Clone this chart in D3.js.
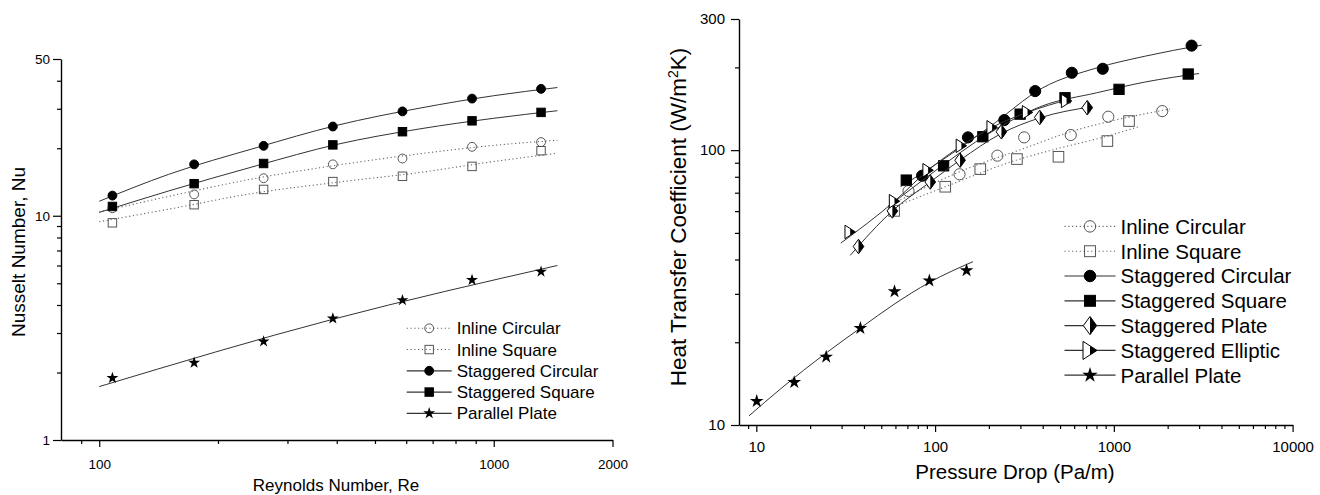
<!DOCTYPE html>
<html>
<head>
<meta charset="utf-8">
<script src="https://cdn.jsdelivr.net/npm/d3@7"></script>
<style>
body { margin: 0; background: #fff; }
svg { display: block; font-family: Arial, "Liberation Sans", sans-serif; }
</style>
</head>
<body>
<svg id="chart" width="1320" height="495"></svg>
<script>
// ---- left panel data: Nusselt number vs Reynolds number ----
const reLeft = [108, 174, 261, 391, 587, 881, 1318];
const nuInlineCircular = [10.8, 12.45, 14.7, 16.95, 18.0, 20.3, 21.3];
const nuInlineSquare = [9.3, 11.2, 13.1, 14.2, 15.0, 16.6, 19.5];
const nuStagCircular = [12.3, 16.95, 20.5, 25.0, 29.2, 33.3, 36.8];
const nuStagSquare = [11.0, 13.9, 17.1, 20.7, 23.7, 26.5, 28.9];
const nuParallel = [1.89, 2.21, 2.75, 3.48, 4.2, 5.17, 5.63];

// fitted curves
const fitReLeft = [100, 150, 250, 400, 650, 1000, 1450];
const fitNuInlineCircular = [10.4, 12.2, 14.7, 16.8, 18.9, 20.6, 21.7];
const fitNuInlineSquare = [9.4, 10.7, 12.65, 14.1, 15.6, 17.45, 19.0];
const fitNuStagCircular = [11.6, 15.3, 20.1, 25.3, 30.2, 34.3, 37.3];
const fitNuStagSquare = [10.35, 12.9, 16.7, 20.8, 24.4, 27.2, 29.4];
const fitReParallel = [100, 390, 1450];
const fitNuParallel = [1.73, 3.45, 6.0];

const leftXTicks = [100, 1000, 2000];
const leftXMinor = [90, 200, 300, 400, 500, 600, 700, 800, 900];
const leftYTicks = [1, 10, 50];
const leftYMinor = [2, 3, 4, 5, 6, 7, 8, 9, 20, 30, 40];

// ---- right panel data: heat transfer coefficient vs pressure drop ----
const dpInlineCircular = [71, 137, 223, 315, 574, 931, 1866];
const hInlineCircular = [71.0, 81.7, 95.5, 111.3, 113.5, 132.3, 138.7];
const dpInlineSquare = [59, 114, 179, 287, 490, 920, 1216];
const hInlineSquare = [60.1, 73.6, 85.3, 92.8, 94.6, 107.9, 127.6];
const dpStagCircular = [84.6, 152.7, 244, 363, 582, 867, 2723];
const hStagCircular = [80.7, 111.3, 128.7, 164, 191.2, 197.7, 240];
const dpStagSquare = [69, 111.6, 185, 299, 533, 1069, 2606];
const hStagSquare = [77.8, 87.7, 111.9, 135.2, 155.1, 166.4, 189.2];
const dpStagPlate = [37.3, 57.7, 94, 138, 235, 385, 710];
const hStagPlate = [44.6, 60.1, 76.6, 91.9, 116.6, 131.5, 142.7];
const dpStagElliptic = [33.5, 59.3, 91.4, 140.3, 208.5, 329, 544];
const hStagElliptic = [50.4, 65.2, 84.5, 103.7, 121.1, 137.3, 151];
const dpParallel = [10.05, 16.3, 24.6, 38.2, 59.3, 92.9, 150];
const hParallel = [12.2, 14.3, 17.7, 22.5, 30.6, 33.5, 36.5];

// fitted curves
const fitDpInlineCircular = [61.2, 137, 315, 574, 931, 2061];
const fitHInlineCircular = [64.9, 83.4, 101.5, 116.7, 126.9, 141.1];
const fitDpInlineSquare = [62.5, 114, 287, 490, 920, 1371];
const fitHInlineSquare = [63.1, 73.6, 92.1, 101.5, 112.5, 121.6];
const fitDpStagCircular = [64, 100, 200, 400, 800, 1500, 3100];
const fitHStagCircular = [73.6, 88.4, 121, 168.5, 199, 219.8, 241];
const fitDpStagSquare = [55, 100, 200, 400, 800, 1500, 3000];
const fitHStagSquare = [62.5, 84, 115, 145, 161.6, 177, 190];
const fitDpStagPlate = [33.5, 57.7, 94, 138, 235, 385, 757];
const fitHStagPlate = [41.4, 60.1, 76.6, 92, 115, 131, 144];
const fitDpStagElliptic = [29.7, 59.3, 91.4, 140.3, 208.5, 329, 560];
const fitHStagElliptic = [45.9, 65.2, 84.5, 103.7, 121.1, 137.3, 153];
const fitDpParallel = [9.1, 13.6, 24.9, 38.5, 59, 92.8, 163];
const fitHParallel = [10.8, 13.5, 18.4, 22.6, 27.5, 33.0, 39.3];

const rightXTicks = [10, 100, 1000, 10000];
const rightXMinor = [9, 20, 30, 40, 50, 60, 70, 80, 90, 200, 300, 400, 500, 600, 700, 800, 900,
                     2000, 3000, 4000, 5000, 6000, 7000, 8000, 9000];
const rightYTicks = [10, 100, 300];
const rightYMinor = [20, 30, 40, 50, 60, 70, 80, 90, 200];

const svg = d3.select("#chart");
const zip = (xs, ys) => xs.map((x, i) => [x, ys[i]]);

// ---- scales ----
const X_LEFT = d3.scaleLog().domain([80, 2000]).range([61, 612.5]);
const Y_LEFT = d3.scaleLog().domain([1, 50]).range([440, 59]);
const X_RIGHT = d3.scaleLog().domain([8, 10000]).range([739, 1292.6]);
const Y_RIGHT = d3.scaleLog().domain([10, 300]).range([425, 19]);

// draw one marker of a given kind centred at 0,0 inside g
function marker(g, kind, s) {
  if (kind === "openCircle" || kind === "circle") {
    g.append("circle").attr("r", s * 0.82)
      .attr("fill", kind === "circle" ? "#000" : "none")
      .attr("stroke", kind === "circle" ? "#000" : "#555").attr("stroke-width", 1);
  } else if (kind === "openSquare" || kind === "square") {
    const h = s * 0.78;
    g.append("rect").attr("x", -h).attr("y", -h).attr("width", 2 * h).attr("height", 2 * h)
      .attr("fill", kind === "square" ? "#000" : "none")
      .attr("stroke", kind === "square" ? "#000" : "#555").attr("stroke-width", 1);
  } else if (kind === "star") {
    g.append("path").attr("d", d3.symbol(d3.symbolStar, s * s * 1.5)())
      .attr("fill", "#000");
  } else if (kind === "halfDiamond") {
    const w = s * 0.95, h = s * 1.3;
    g.append("path").attr("d", `M0,${-h}L${w},0L0,${h}L${-w},0Z`)
      .attr("fill", "#fff").attr("stroke", "#000").attr("stroke-width", 1);
    g.append("path").attr("d", `M0,${-h}L${w},0L0,${h}Z`).attr("fill", "#000");
  } else if (kind === "halfTriangle") {
    const w = s * 1.0, h = s * 1.3;
    g.append("path").attr("d", `M${-w},${-h}L${w},0L${-w},${h}Z`)
      .attr("fill", "#fff").attr("stroke", "#000").attr("stroke-width", 1);
    g.append("path").attr("d", `M0,${-h / 2}L${w},0L0,${h / 2}Z`).attr("fill", "#000");
  }
}

function drawAxes(xs, ys, xTicks, xMinor, yTicks, yMinor, fontSize, xPad, yPad) {
  const bottom = ys.range()[0], left = xs.range()[0];
  const xa = svg.append("g").attr("transform", `translate(0,${bottom})`)
    .call(d3.axisBottom(xs).tickValues(xTicks).tickFormat(d3.format("d"))
      .tickSize(7).tickSizeOuter(0).tickPadding(xPad));
  svg.append("g").attr("transform", `translate(0,${bottom})`)
    .call(d3.axisBottom(xs).tickValues(xMinor).tickFormat("").tickSize(4).tickSizeOuter(0))
    .call(g => g.select(".domain").remove());
  const ya = svg.append("g").attr("transform", `translate(${left},0)`)
    .call(d3.axisLeft(ys).tickValues(yTicks).tickFormat(d3.format("d"))
      .tickSize(8).tickSizeOuter(0).tickPadding(yPad));
  svg.append("g").attr("transform", `translate(${left},0)`)
    .call(d3.axisLeft(ys).tickValues(yMinor).tickFormat("").tickSize(4).tickSizeOuter(0))
    .call(g => g.select(".domain").remove());
  [xa, ya].forEach(a => {
    a.attr("font-family", null).attr("font-size", fontSize);
    a.select(".domain").attr("stroke-width", 1.4);
  });
  svg.selectAll(".tick line").attr("stroke-width", 1.2);
}

function drawSeries(xs, ys, fx, fy, px, py, kind, dotted, s) {
  const line = d3.line().x(d => xs(d[0])).y(d => ys(d[1])).curve(d3.curveMonotoneX);
  svg.append("path").datum(zip(fx, fy)).attr("d", line)
    .attr("fill", "none")
    .attr("stroke", dotted ? "#666" : "#333")
    .attr("stroke-width", dotted ? 1.1 : 1)
    .attr("stroke-dasharray", dotted ? "1.2,2.6" : null);
  zip(px, py).forEach(d => {
    marker(svg.append("g").attr("transform", `translate(${xs(d[0])},${ys(d[1])})`), kind, s);
  });
}

function drawLegend(items, x0, y0, dy, lineLen, fontSize, s) {
  items.forEach((it, i) => {
    const y = y0 + i * dy;
    svg.append("line").attr("x1", x0).attr("x2", x0 + lineLen).attr("y1", y).attr("y2", y)
      .attr("stroke", it.dotted ? "#666" : "#333").attr("stroke-width", it.dotted ? 1.1 : 1.2)
      .attr("stroke-dasharray", it.dotted ? "1.2,2.6" : null);
    marker(svg.append("g").attr("transform", `translate(${x0 + lineLen / 2},${y})`), it.kind, s);
    svg.append("text").attr("x", x0 + lineLen + 5).attr("y", y).attr("dy", "0.36em")
      .attr("font-size", fontSize).attr("fill", "#000").text(it.name);
  });
}

// ---- left panel ----
drawAxes(X_LEFT, Y_LEFT, leftXTicks, leftXMinor, leftYTicks, leftYMinor, 13.5, 12, 3);
drawSeries(X_LEFT, Y_LEFT, fitReLeft, fitNuInlineCircular, reLeft, nuInlineCircular, "openCircle", true, 5.4);
drawSeries(X_LEFT, Y_LEFT, fitReLeft, fitNuInlineSquare, reLeft, nuInlineSquare, "openSquare", true, 5.4);
drawSeries(X_LEFT, Y_LEFT, fitReLeft, fitNuStagCircular, reLeft, nuStagCircular, "circle", false, 5.4);
drawSeries(X_LEFT, Y_LEFT, fitReLeft, fitNuStagSquare, reLeft, nuStagSquare, "square", false, 5.4);
drawSeries(X_LEFT, Y_LEFT, fitReParallel, fitNuParallel, reLeft, nuParallel, "star", false, 5.4);

drawLegend([
  {name: "Inline Circular", kind: "openCircle", dotted: true},
  {name: "Inline Square", kind: "openSquare", dotted: true},
  {name: "Staggered Circular", kind: "circle"},
  {name: "Staggered Square", kind: "square"},
  {name: "Parallel Plate", kind: "star"}
], 406.7, 328.3, 21.25, 45, 17, 5.4);

svg.append("text").attr("x", 336).attr("y", 491).attr("text-anchor", "middle")
  .attr("font-size", 17).text("Reynolds Number, Re");
svg.append("text").attr("transform", "translate(25,252) rotate(-90)").attr("text-anchor", "middle")
  .attr("font-size", 19).text("Nusselt Number, Nu");

// ---- right panel ----
drawAxes(X_RIGHT, Y_RIGHT, rightXTicks, rightXMinor, rightYTicks, rightYMinor, 15, 9, 6);
drawSeries(X_RIGHT, Y_RIGHT, fitDpInlineCircular, fitHInlineCircular, dpInlineCircular, hInlineCircular, "openCircle", true, 6.8);
drawSeries(X_RIGHT, Y_RIGHT, fitDpInlineSquare, fitHInlineSquare, dpInlineSquare, hInlineSquare, "openSquare", true, 6.8);
drawSeries(X_RIGHT, Y_RIGHT, fitDpStagCircular, fitHStagCircular, dpStagCircular, hStagCircular, "circle", false, 6.8);
drawSeries(X_RIGHT, Y_RIGHT, fitDpStagSquare, fitHStagSquare, dpStagSquare, hStagSquare, "square", false, 6.6);
drawSeries(X_RIGHT, Y_RIGHT, fitDpStagPlate, fitHStagPlate, dpStagPlate, hStagPlate, "halfDiamond", false, 5.6);
drawSeries(X_RIGHT, Y_RIGHT, fitDpStagElliptic, fitHStagElliptic, dpStagElliptic, hStagElliptic, "halfTriangle", false, 5.2);
drawSeries(X_RIGHT, Y_RIGHT, fitDpParallel, fitHParallel, dpParallel, hParallel, "star", false, 6.2);

drawLegend([
  {name: "Inline Circular", kind: "openCircle", dotted: true},
  {name: "Inline Square", kind: "openSquare", dotted: true},
  {name: "Staggered Circular", kind: "circle"},
  {name: "Staggered Square", kind: "square"},
  {name: "Staggered Plate", kind: "halfDiamond"},
  {name: "Staggered Elliptic", kind: "halfTriangle"},
  {name: "Parallel Plate", kind: "star"}
], 1064.5, 226.4, 24.8, 51, 20.5, 7);

svg.append("text").attr("x", 1015).attr("y", 479).attr("text-anchor", "middle")
  .attr("font-size", 20.5).text("Pressure Drop (Pa/m)");
const yt = svg.append("text").attr("transform", "translate(686,217) rotate(-90)")
  .attr("text-anchor", "middle").attr("font-size", 22.5);
yt.append("tspan").text("Heat Transfer Coefficient (W/m");
yt.append("tspan").attr("font-size", 14).attr("baseline-shift", "super").text("2");
yt.append("tspan").text("K)");
</script>
</body>
</html>
